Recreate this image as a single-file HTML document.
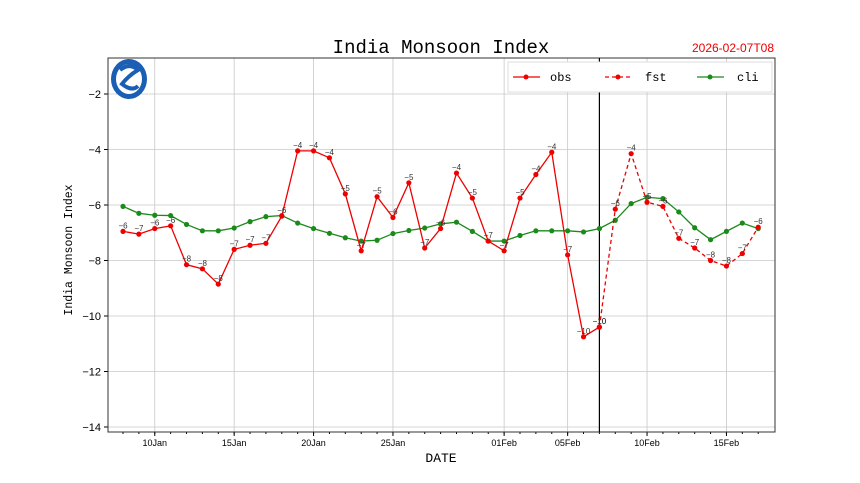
<!DOCTYPE html>
<html><head><meta charset="utf-8"><style>
body{margin:0;background:#fff;}
svg{display:block;font-family:"Liberation Sans","WenQuanYi Zen Hei",sans-serif;}
</style></head><body>
<svg id="chart" width="860" height="483" viewBox="0 0 860 483" xmlns="http://www.w3.org/2000/svg">
<text x="441" y="53" text-anchor="middle" font-size="19" font-family="Liberation Mono, monospace">India Monsoon Index</text>
<text x="733" y="52" text-anchor="middle" font-size="12" fill="#e00">2026-02-07T08</text>
<g id="grid"></g><g id="axes"></g><g id="series"></g>
<g>
<ellipse cx="129" cy="79" rx="18" ry="20" fill="#1a5fb4"/>
<ellipse cx="129" cy="79" rx="13" ry="15" fill="#fff"/>
<path d="M120 70 Q130 62 138 70 Q128 76 122 84 Q132 92 138 86" stroke="#1a5fb4" stroke-width="4" fill="none"/>
</g>
<g>
<rect x="508" y="62" width="264" height="30" fill="#fff" stroke="#ddd"/>
<g><line x1="513" y1="77" x2="540" y2="77" stroke="#e00" stroke-width="1.3"/><circle cx="526" cy="77" r="2.5" fill="#e00"/><text x="550" y="81" font-size="12" font-family="Liberation Mono, monospace">obs</text></g>
<g><line x1="605" y1="77" x2="632" y2="77" stroke="#e00" stroke-width="1.3" stroke-dasharray="4,3"/><circle cx="618" cy="77" r="2.5" fill="#e00"/><text x="645" y="81" font-size="12" font-family="Liberation Mono, monospace">fst</text></g>
<g><line x1="697" y1="77" x2="724" y2="77" stroke="#1a8a1a" stroke-width="1.3"/><circle cx="710" cy="77" r="2.5" fill="#1a8a1a"/><text x="737" y="81" font-size="12" font-family="Liberation Mono, monospace">cli</text></g>
</g>
<text transform="translate(72,250) rotate(-90)" text-anchor="middle" font-size="11.5" font-family="Liberation Mono, monospace">India Monsoon Index</text>
<text x="441" y="462" text-anchor="middle" font-size="13" font-family="Liberation Mono, monospace">DATE</text>
</svg>
<script>
const obsValues=[-6.95,-7.05,-6.85,-6.75,-8.15,-8.3,-8.85,-7.6,-7.45,-7.38,-6.4,-4.05,-4.05,-4.3,-5.6,-7.65,-5.7,-6.45,-5.2,-7.55,-6.85,-4.85,-5.75,-7.3,-7.65,-5.75,-4.9,-4.1,-7.8,-10.75,-10.4];
const fstValues=[-10.4,-6.15,-4.15,-5.9,-6.05,-7.2,-7.55,-8.0,-8.2,-7.75,-6.8];
const cliValues=[-6.05,-6.3,-6.37,-6.38,-6.7,-6.93,-6.93,-6.83,-6.6,-6.42,-6.38,-6.65,-6.85,-7.02,-7.18,-7.3,-7.27,-7.03,-6.92,-6.83,-6.68,-6.62,-6.95,-7.3,-7.3,-7.1,-6.93,-6.93,-6.93,-6.97,-6.85,-6.55,-5.95,-5.72,-5.77,-6.25,-6.82,-7.25,-6.95,-6.65,-6.85];
const yTicks=[-2,-4,-6,-8,-10,-12,-14];
const xTickDays=[2,7,12,17,24,28,33,38];
const xTickLabels=["10Jan","15Jan","20Jan","25Jan","01Feb","05Feb","10Feb","15Feb"];
const fstStartDay=30;

const NS="http://www.w3.org/2000/svg";
const L=108,R=775,T=58,B=432;
const x=d=>123+d*15.88;
const y=v=>94+(-2-v)*27.75;
function mk(tag,attrs,parent){const e=document.createElementNS(NS,tag);for(const k in attrs)e.setAttribute(k,attrs[k]);parent.appendChild(e);return e;}
const grid=document.getElementById('grid'),axes=document.getElementById('axes'),ser=document.getElementById('series');
yTicks.forEach(v=>{
 const g=mk('line',{x1:L,x2:R,y1:y(v),y2:y(v),stroke:'#c8c8c8','stroke-width':0.8},grid);
 
 
 mk('line',{x1:L-4,x2:L,y1:y(v),y2:y(v),stroke:'#000'},axes);
 const t=mk('text',{x:L-7,y:y(v)+4,'text-anchor':'end','font-size':11},axes);
 t.textContent=String(v).replace('-','\u2212');
 
 
});
xTickDays.forEach((d,i)=>{
 const g=mk('line',{x1:x(d),x2:x(d),y1:T,y2:B,stroke:'#c8c8c8','stroke-width':0.8},grid);
 
 
 mk('line',{x1:x(d),x2:x(d),y1:B,y2:B+4,stroke:'#000'},axes);
 const t=mk('text',{x:x(d),y:B+14,'text-anchor':'middle','font-size':9},axes);
 t.textContent=xTickLabels[i];
 
 
});
for(let d=0;d<cliValues.length;d++) mk('line',{x1:x(d),x2:x(d),y1:B,y2:B+2,stroke:'#000'},axes);
const box=mk('rect',{x:L,y:T,width:R-L,height:B-T,fill:'none',stroke:'#333'},axes);


const vl=mk('line',{x1:x(fstStartDay),x2:x(fstStartDay),y1:T,y2:B,stroke:'#000','stroke-width':1.2},axes);



function series(vals,start,color,dash,name,labels){
 const pts=vals.map((v,i)=>x(start+i)+','+y(v)).join(' ');
 const pl=mk('polyline',{points:pts,fill:'none',stroke:color,'stroke-width':1.3,'stroke-dasharray':dash||'none'},ser);
 
 
 vals.forEach((v,i)=>{
  const c=mk('circle',{cx:x(start+i),cy:y(v),r:2.6,fill:color},ser);
  
  
  if(labels){
   const t=mk('text',{x:x(start+i),y:y(v)-3,'text-anchor':'middle','font-size':8,fill:'#333'},ser);
   t.textContent=String(Math.trunc(v)).replace('-','\u2212');
   
   
  }
 });
}
series(cliValues,0,'#1a8a1a',null,'cli',false);
series(obsValues,0,'#e00',null,'obs',true);
series(fstValues,fstStartDay,'#e00','4,3','fst',true);
</script>
</body></html>
